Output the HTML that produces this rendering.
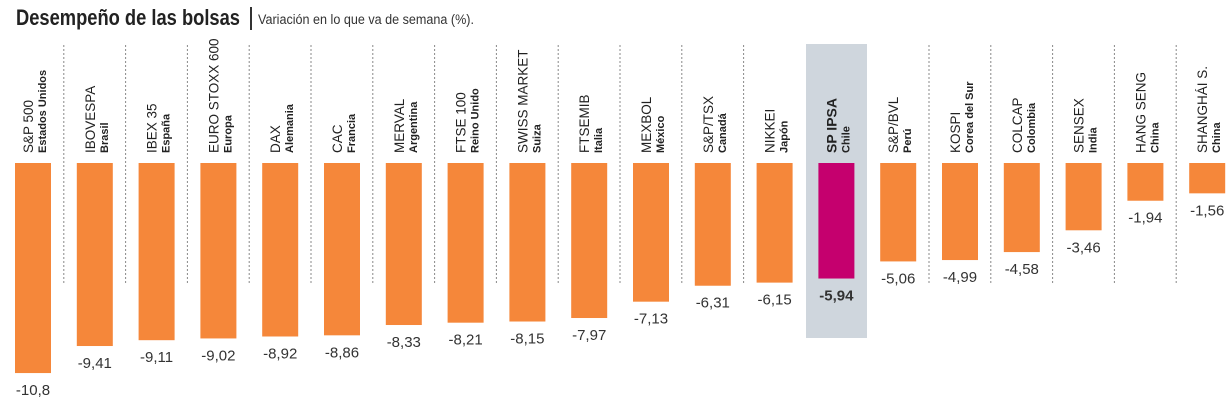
<!DOCTYPE html>
<html><head><meta charset="utf-8"><style>
html,body{margin:0;padding:0;background:#fff;}
svg{display:block;font-family:"Liberation Sans",sans-serif;}
</style></head><body>
<svg width="1231" height="405" viewBox="0 0 1231 405" xmlns="http://www.w3.org/2000/svg">
<text x="16" y="25" font-size="22" font-weight="bold" fill="#222" textLength="224" lengthAdjust="spacingAndGlyphs">Desempeño de las bolsas</text>
<rect x="250" y="7" width="2" height="23" fill="#333"/>
<text x="258" y="24" font-size="13.5" fill="#333" textLength="216" lengthAdjust="spacingAndGlyphs">Variación en lo que va de semana (%).</text>
<rect x="806" y="44" width="61" height="294" fill="#cfd6dd"/>
<g id="c"></g>
</svg>
<script>
var d=[["S&P 500","Estados Unidos",-10.8,"-10,8"],["IBOVESPA","Brasil",-9.41,"-9,41"],["IBEX 35","España",-9.11,"-9,11"],["EURO STOXX 600","Europa",-9.02,"-9,02"],["DAX","Alemania",-8.92,"-8,92"],["CAC","Francia",-8.86,"-8,86"],["MERVAL","Argentina",-8.33,"-8,33"],["FTSE 100","Reino Unido",-8.21,"-8,21"],["SWISS MARKET","Suiza",-8.15,"-8,15"],["FTSEMIB","Italia",-7.97,"-7,97"],["MEXBOL","México",-7.13,"-7,13"],["S&P/TSX","Canadá",-6.31,"-6,31"],["NIKKEI","Japón",-6.15,"-6,15"],["SP IPSA","Chile",-5.94,"-5,94"],["S&P/BVL","Perú",-5.06,"-5,06"],["KOSPI","Corea del Sur",-4.99,"-4,99"],["COLCAP","Colombia",-4.58,"-4,58"],["SENSEX","India",-3.46,"-3,46"],["HANG SENG","China",-1.94,"-1,94"],["SHANGHÁI S.","China",-1.56,"-1,56"]];
var s="";
function esc(t){return t.replace(/&/g,"&amp;");}
d.forEach(function(r,i){
 var x=15+i*61.8, h=-r[2]*19.45, hi=i==13;
 if(i>0&&i!=13&&i!=14) s+='<line x1="'+(x-13)+'" y1="45" x2="'+(x-13)+'" y2="284" stroke="#888" stroke-width="1" stroke-dasharray="2,2"/>';
 s+='<rect x="'+x+'" y="163" width="36" height="'+h+'" fill="'+(hi?'#c5006e':'#f5873a')+'"/>';
 s+='<text transform="translate('+(x+18)+',153) rotate(-90)" font-size="'+(hi?14:13.5)+'" fill="#222"'+(hi?' font-weight="bold"':'')+'>'+esc(r[0])+'</text>';
 s+='<text transform="translate('+(x+31)+',153) rotate(-90)" font-size="11" font-weight="bold" fill="#222">'+esc(r[1])+'</text>';
 s+='<text x="'+(x+18)+'" y="'+(163+h+22)+'" text-anchor="middle" font-size="15" fill="#333"'+(hi?' font-weight="bold"':'')+'>'+r[3]+'</text>';
});
document.getElementById("c").innerHTML=s;
</script>
</body></html>
